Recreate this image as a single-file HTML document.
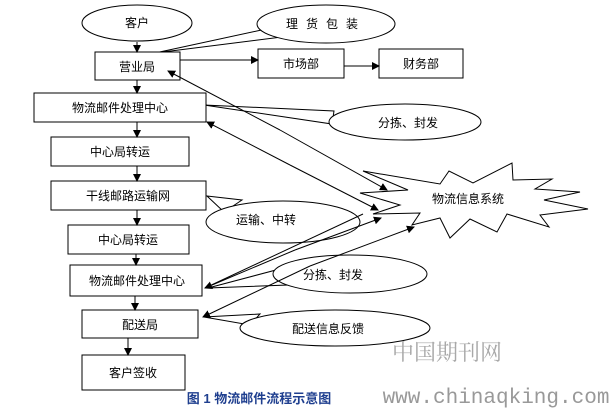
<!DOCTYPE html>
<html><head><meta charset="utf-8"><style>
html,body{margin:0;padding:0;background:#fff;}
svg{display:block;}
text{font-family:"Liberation Sans","Noto Sans CJK SC",sans-serif;font-size:12px;fill:#000;}
</style></head><body>
<svg width="613" height="408" viewBox="0 0 613 408">
<defs><marker id="a" markerWidth="8" markerHeight="8" refX="7" refY="4" orient="auto" markerUnits="userSpaceOnUse"><path d="M0,0 L8,4 L0,8 z" fill="#000"/></marker></defs>
<g fill="#fff" stroke="#000" stroke-width="1">
<path d="M363,171 L440,184 L449,171 L473,183 L512,163 L513,180 L552,179 L535,189 L580,192 L544,200 L588,209 L540,215 L549,227 L507,214 L497,232 L470,219 L450,238 L440,218 L412,225 L420,213 L373,214 L400,205 L360,193 L408,190 Z"/>
<ellipse cx="137" cy="23" rx="55" ry="18"/>
<path d="M155,53 L266,29 L282,37 Z"/>
<ellipse cx="326" cy="24" rx="69" ry="19"/>
<path d="M204,105 L334,111 L332,124 Z"/>
<ellipse cx="405" cy="122" rx="76" ry="18"/>
<path d="M207,196 L242,200 L224,212 Z"/>
<ellipse cx="283" cy="222" rx="77" ry="21"/>
<path d="M208,288 L276,270 L288,285 Z"/>
<ellipse cx="350" cy="274" rx="77" ry="19"/>
<path d="M204,317 L260,314 L250,325 Z"/>
<ellipse cx="335" cy="328" rx="95" ry="18"/>
<rect x="95" y="52" width="85" height="28"/>
<rect x="258" y="49" width="86" height="29"/>
<rect x="379" y="49" width="84" height="29"/>
<rect x="34" y="93" width="172" height="29"/>
<rect x="51" y="137" width="138" height="29"/>
<rect x="51" y="181" width="155" height="29"/>
<rect x="68" y="225" width="121" height="29"/>
<rect x="70" y="265" width="132" height="31"/>
<rect x="82" y="310" width="116" height="28"/>
<rect x="82" y="355" width="103" height="35"/>
</g>
<g stroke="#000" stroke-width="1" fill="none">
<line x1="137" y1="42" x2="137" y2="52" marker-end="url(#a)"/>
<line x1="137" y1="80" x2="137" y2="93" marker-end="url(#a)"/>
<line x1="137" y1="122" x2="137" y2="137" marker-end="url(#a)"/>
<line x1="137" y1="166" x2="137" y2="181" marker-end="url(#a)"/>
<line x1="137" y1="210" x2="137" y2="225" marker-end="url(#a)"/>
<line x1="136" y1="254" x2="136" y2="265" marker-end="url(#a)"/>
<line x1="135" y1="296" x2="135" y2="310" marker-end="url(#a)"/>
<line x1="128" y1="338" x2="128" y2="355" marker-end="url(#a)"/>
<line x1="180" y1="60" x2="258" y2="60" marker-end="url(#a)"/>
<line x1="344" y1="66" x2="379" y2="66" marker-end="url(#a)"/>
<line x1="280" y1="130" x2="168" y2="71" marker-end="url(#a)"/>
<line x1="280" y1="130" x2="387" y2="190" marker-end="url(#a)"/>
<line x1="290" y1="165" x2="207" y2="122" marker-end="url(#a)"/>
<line x1="290" y1="165" x2="378" y2="210" marker-end="url(#a)"/>
<line x1="295" y1="250" x2="205" y2="288" marker-end="url(#a)"/>
<line x1="295" y1="250" x2="381" y2="218" marker-end="url(#a)"/>
<line x1="363" y1="214" x2="205" y2="288"/>
<line x1="310" y1="266" x2="203" y2="317" marker-end="url(#a)"/>
<line x1="310" y1="266" x2="414" y2="227" marker-end="url(#a)"/>
</g>
<text x="137" y="27" text-anchor="middle">客户</text>
<text x="326" y="28" text-anchor="middle" letter-spacing="8">理货包装</text>
<text x="137" y="71" text-anchor="middle">营业局</text>
<text x="301" y="68" text-anchor="middle">市场部</text>
<text x="421" y="68" text-anchor="middle">财务部</text>
<text x="120" y="112" text-anchor="middle">物流邮件处理中心</text>
<text x="408" y="127" text-anchor="middle">分拣、封发</text>
<text x="120" y="156" text-anchor="middle">中心局转运</text>
<text x="128" y="200" text-anchor="middle">干线邮路运输网</text>
<text x="468" y="203" text-anchor="middle">物流信息系统</text>
<text x="266" y="224" text-anchor="middle">运输、中转</text>
<text x="128" y="244" text-anchor="middle">中心局转运</text>
<text x="333" y="279" text-anchor="middle">分拣、封发</text>
<text x="137" y="285" text-anchor="middle">物流邮件处理中心</text>
<text x="140" y="329" text-anchor="middle">配送局</text>
<text x="328" y="333" text-anchor="middle">配送信息反馈</text>
<text x="133" y="377" text-anchor="middle">客户签收</text>
<text x="447" y="360" text-anchor="middle" style="font-family:'Noto Serif CJK SC',serif;font-size:22px;fill:#a8a8a8">中国期刊网</text>
<text x="496" y="403" text-anchor="middle" style="font-family:'Liberation Mono',monospace;font-size:21px;fill:#999">www.chinaqking.com</text>
<text x="259" y="403" text-anchor="middle" style="font-size:13px;font-weight:bold;fill:#1f3f8f">图 1 物流邮件流程示意图</text>
</svg>
</body></html>
